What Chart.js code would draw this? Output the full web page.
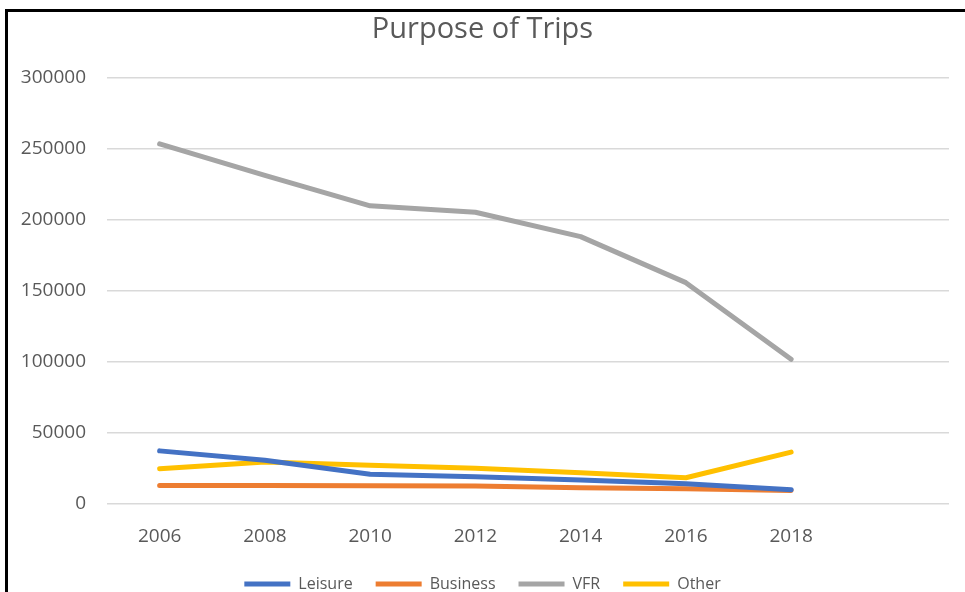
<!DOCTYPE html>
<html>
<head>
<meta charset="utf-8">
<script src="https://cdn.jsdelivr.net/npm/chart.js@4"></script>
<style>
  html, body { margin: 0; padding: 0; background: #fff; overflow: hidden; }
  #wrap { position: relative; width: 965px; height: 592px; overflow: hidden; }
  #frame { position: absolute; left: 5px; top: 9px; right: 0; bottom: 0;
           border-left: 3px solid #000; border-top: 3px solid #000; pointer-events: none; }
  canvas { position: absolute; left: 0; top: 0; }
</style>
</head>
<body>
<div id="wrap">
  <canvas id="tripsChart" width="965" height="602" style="width:965px;height:602px"></canvas>
  <div id="frame"></div>
</div>
<script>
// Years on the x axis (Excel leaves one empty slot at the end)
const years = ["2006", "2008", "2010", "2012", "2014", "2016", "2018", ""];

// Values
const leisure  = [37400, 30800, 21000, 19200, 16900, 14300, 10000, null];
const business = [13000, 13000, 12900, 12600, 11500, 10700,  9500, null];
const vfr      = [253500, 231300, 209900, 205400, 188200, 155800, 101900, null];
const other    = [24800, 29500, 27200, 25100, 22000, 18500, 36500, null];

const textColor = "#595959";
const font = "'Open Sans', sans-serif";

function series(label, data, color) {
    return {
        label: label,
        data: data,
        borderColor: color,
        backgroundColor: color,
        borderWidth: 5,
        borderCapStyle: "round",
        borderJoinStyle: "round",
        pointRadius: 0,
        tension: 0,
        fill: false
    };
}

const ctx = document.getElementById("tripsChart").getContext("2d");
new Chart(ctx, {
    type: "line",
    data: {
        labels: years,
        datasets: [
            series("Leisure", leisure, "#4472C4"),
            series("Business", business, "#ED7D31"),
            series("VFR", vfr, "#A5A5A5"),
            series("Other", other, "#FFC000")
        ]
    },
    options: {
        responsive: false,
        animation: false,
        layout: { padding: { left: 16, right: 16, top: 0, bottom: 0 } },
        plugins: {
            title: {
                display: true,
                text: "Purpose of Trips",
                color: textColor,
                font: { family: font, size: 29, weight: "normal" },
                padding: { top: 12, bottom: 31 }
            },
            legend: {
                position: "bottom",
                labels: {
                    color: textColor,
                    font: { family: font, size: 16 },
                    usePointStyle: true,
                    pointStyle: "line",
                    pointStyleWidth: 46,
                    padding: 23
                }
            },
            tooltip: { enabled: false }
        },
        scales: {
            x: {
                offset: true,
                grid: { display: false },
                border: { display: false },
                ticks: {
                    color: textColor,
                    font: { family: font, size: 19 },
                    padding: 13,
                    maxRotation: 0
                },
                afterFit: function(scale) { scale.height = 49; }
            },
            y: {
                min: 0,
                max: 300000,
                grid: { color: "#d9d9d9", lineWidth: 1.5, drawTicks: false },
                border: { display: false },
                ticks: {
                    stepSize: 50000,
                    color: textColor,
                    font: { family: font, size: 19 },
                    padding: 21,
                    callback: function(value) { return String(value); }
                },
                afterFit: function(scale) { scale.width = 91; }
            }
        }
    }
});
</script>
</body>
</html>
